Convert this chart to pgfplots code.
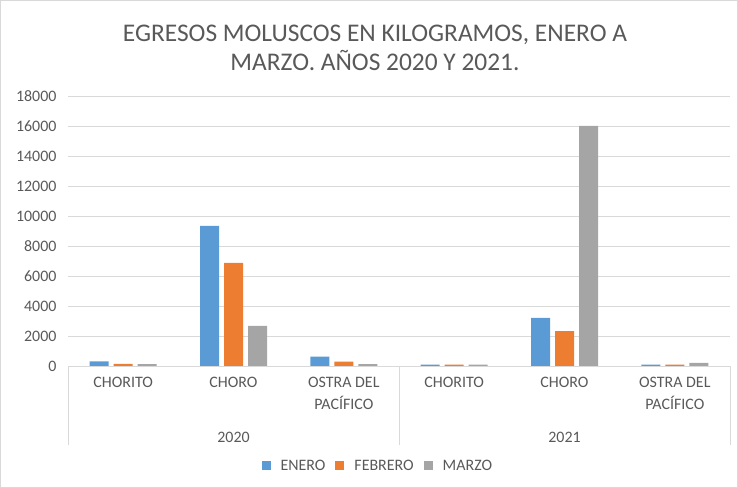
\documentclass[border=0pt]{standalone}
\usepackage{pgfplots}
\pgfplotsset{compat=1.18}
\usepackage{fontspec}
\setmainfont{Carlito}
\definecolor{enero}{HTML}{5B9BD5}
\definecolor{febrero}{HTML}{ED7D31}
\definecolor{marzo}{HTML}{A5A5A5}
\definecolor{txt}{HTML}{595959}
\definecolor{gridc}{HTML}{D9D9D9}

% x: 0-2 = 2020 (Chorito, Choro, Ostra), 3-5 = 2021
\pgfplotstableread{
x enero febrero marzo
0 300 150 120
1 9340 6870 2670
2 620 290 120
3 100 100 100
4 3200 2330 16000
5 100 100 200
}\datos

\begin{document}
\begin{tikzpicture}[font=\fontsize{16}{18}\selectfont, text=txt]
\useasboundingbox (0,0) rectangle (738bp,488bp);
\draw[gridc] (0.5bp,0.5bp) rectangle (737.5bp,487.5bp);
\node[font=\fontsize{25.5}{29}\selectfont, align=center] at (375bp,440bp)
  {EGRESOS MOLUSCOS EN KILOGRAMOS, ENERO A\\MARZO. AÑOS 2020 Y 2021.};
\begin{axis}[
    at={(68bp,122bp)}, anchor=south west,
    scale only axis, width=662bp, height=270bp,
    ybar=5bp, bar width=19bp,
    xmin=-0.5, xmax=5.5, ymin=0, ymax=18000,
    ytick distance=2000,
    ymajorgrids, grid style={gridc},
    axis line style={draw=none},
    major tick length=0pt,
    xtick={0,...,5},
    xticklabels={CHORITO,CHORO,{OSTRA DEL\\[4bp]PACÍFICO},CHORITO,CHORO,{OSTRA DEL\\[4bp]PACÍFICO}},
    xticklabel style={align=center, anchor=north, yshift=-8bp},
    yticklabel style={xshift=-8bp},
    scaled ticks=false,
    /pgf/number format/.cd, 1000 sep={}, assume math mode=true,
    /pgfplots/.cd,
    clip=false,
    legend columns=3,
    legend style={at={(0.468,-0.37)}, anchor=center, draw=none, fill=none,
      font=\fontsize{16}{18}\selectfont, column sep=8bp, nodes={inner xsep=2bp}},
    legend image code/.code={\fill[#1] (0bp,-4.5bp) rectangle (9bp,4.5bp);},
]
\addplot[fill=enero, draw=none] table[x=x, y=enero] {\datos};
\addplot[fill=febrero, draw=none] table[x=x, y=febrero] {\datos};
\addplot[fill=marzo, draw=none] table[x=x, y=marzo] {\datos};
\legend{ENERO, FEBRERO, MARZO}
\draw[gridc] (axis cs:-0.5,0) -- (axis cs:5.5,0);
\draw[gridc] (axis cs:-0.5,0) -- ([yshift=-79bp]axis cs:-0.5,0);
\draw[gridc] (axis cs:2.5,0) -- ([yshift=-79bp]axis cs:2.5,0);
\draw[gridc] (axis cs:5.5,0) -- ([yshift=-79bp]axis cs:5.5,0);
\node at ([yshift=-71bp]axis cs:1,0) {2020};
\node at ([yshift=-71bp]axis cs:4,0) {2021};
\end{axis}
\end{tikzpicture}
\end{document}
